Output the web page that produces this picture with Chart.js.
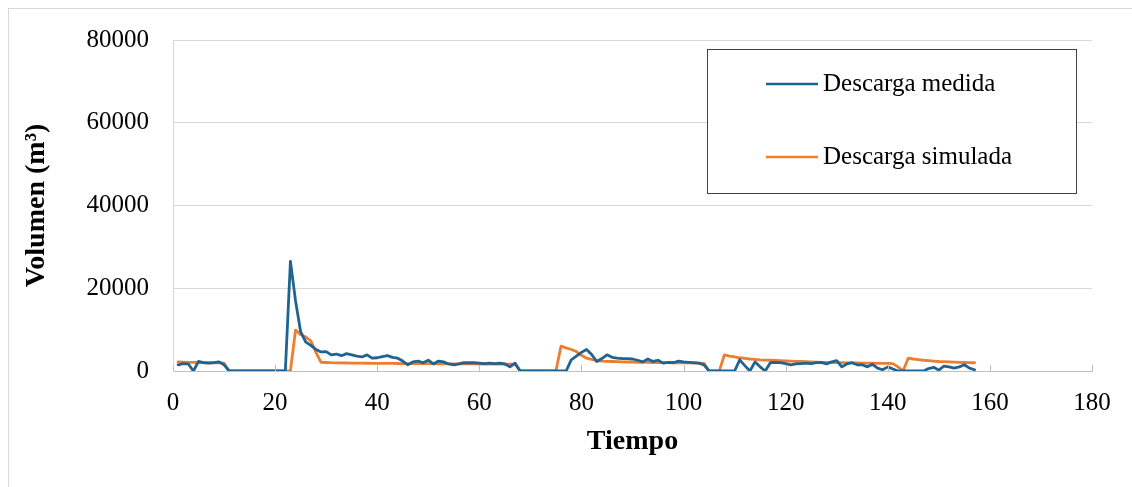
<!DOCTYPE html>
<html>
<head>
<meta charset="utf-8">
<script src="https://cdn.jsdelivr.net/npm/chart.js@4/dist/chart.umd.min.js"></script>
<style>
  body { margin: 0; background: #fff; }
  canvas { display: block; }
</style>
</head>
<body>
<canvas id="grafico" width="1132" height="487"></canvas>
<script>
// volumen diario (m3)
var medida = [
  1500, 1800, 1700, 0, 2300, 2000, 1900, 2000, 2200, 1500,
  0, 0, 0, 0, 0, 0, 0, 0, 0, 0,
  0, 0, 26500, 17000, 9500, 7000, 6200, 5200, 4600, 4700,
  3900, 4100, 3700, 4200, 3900, 3600, 3400, 3900, 3100, 3200,
  3500, 3700, 3300, 3100, 2400, 1500, 2200, 2400, 2000, 2600,
  1700, 2400, 2200, 1700, 1500, 1700, 2000, 2000, 2000, 1900,
  1800, 1900, 1800, 1900, 1700, 1000, 1900, 0, 0, 0,
  0, 0, 0, 0, 0, 0, 0, 2700, 3600, 4500,
  5200, 4000, 2300, 3000, 3900, 3300, 3100, 3000, 3000, 2900,
  2600, 2200, 2900, 2300, 2600, 1900, 2100, 2000, 2400, 2200,
  2100, 2000, 1900, 1500, 0, 0, 0, 0, 0, 0,
  2700, 1300, 0, 2200, 1000, 0, 2000, 2100, 2000, 1800,
  1500, 1700, 1800, 1900, 1800, 2000, 2100, 1700, 2200, 2500,
  1000, 1700, 2000, 1500, 1500, 1000, 1600, 700, 300, 1000,
  500, 0, 0, 0, 0, 0, 0, 600, 900, 200,
  1200, 1000, 700, 1000, 1500, 700, 300
];

var simulada = [
  2200, 2150, 2100, 2100, 2050, 2000, 2000, 1950, 1950, 1900,
  0, 0, 0, 0, 0, 0, 0, 0, 0, 0,
  0, 0, 0, 9900, 8800, 8200, 7300, 4500, 2100, 2050,
  2000, 1980, 1950, 1930, 1920, 1900, 1890, 1870, 1860, 1850,
  1840, 1830, 1820, 1810, 1800, 1800, 1790, 1780, 1770, 1760,
  1760, 1750, 1740, 1730, 1730, 1720, 1710, 1700, 1700, 1690,
  1680, 1680, 1670, 1660, 1650, 1650, 1650, 0, 0, 0,
  0, 0, 0, 0, 0, 6000, 5600, 5200, 4700, 3800,
  3100, 2800, 2500, 2400, 2350, 2300, 2250, 2200, 2180, 2150,
  2120, 2100, 2080, 2060, 2040, 2020, 2000, 1990, 1970, 1960,
  1940, 1920, 1900, 1850, 0, 0, 0, 3900, 3600, 3400,
  3200, 3050, 2900, 2800, 2700, 2650, 2600, 2550, 2500, 2450,
  2400, 2350, 2300, 2250, 2200, 2150, 2100, 2080, 2050, 2020,
  2000, 1980, 1960, 1940, 1920, 1900, 1880, 1860, 1850, 1830,
  1800, 1000, 0, 3100, 2900, 2750, 2600, 2500, 2400, 2300,
  2250, 2200, 2150, 2100, 2050, 2000, 2000
];

// dia 1..157
var tiempo = medida.map(function(v, i) { return i + 1; });

var series = ["Descarga medida", "Descarga simulada"];
var colores = ["#1f6390", "#ed7d31"];

var fuente = "'Liberation Serif', 'Times New Roman', serif";

function puntos(valores) {
  return valores.map(function(v, i) { return { x: tiempo[i], y: v }; });
}

// marco exterior y fondo
var marco = {
  id: 'marco',
  beforeDraw: function(chart) {
    var ctx = chart.ctx;
    ctx.save();
    ctx.fillStyle = '#fff';
    ctx.fillRect(0, 0, chart.width, chart.height);
    ctx.strokeStyle = '#d9d9d9';
    ctx.lineWidth = 1;
    ctx.strokeRect(8.5, 8.5, chart.width + 20, chart.height + 20);
    ctx.restore();
  }
};

// marcas del eje x hacia adentro
var marcasX = {
  id: 'marcasX',
  afterDatasetsDraw: function(chart) {
    var ctx = chart.ctx;
    var x = chart.scales.x;
    var base = chart.chartArea.bottom;
    ctx.save();
    ctx.strokeStyle = '#bfbfbf';
    ctx.lineWidth = 1;
    x.ticks.forEach(function(t) {
      var px = Math.round(x.getPixelForValue(t.value)) + 0.5;
      ctx.beginPath();
      ctx.moveTo(px, base);
      ctx.lineTo(px, base - 6);
      ctx.stroke();
    });
    ctx.restore();
  }
};

// leyenda en recuadro
var leyenda = {
  id: 'leyenda',
  afterDraw: function(chart) {
    var ctx = chart.ctx;
    ctx.save();
    ctx.fillStyle = '#fff';
    ctx.fillRect(707, 49, 369, 144);
    ctx.strokeStyle = '#404040';
    ctx.lineWidth = 1;
    ctx.strokeRect(707.5, 49.5, 369, 144);
    var filas = [84, 157];
    chart.data.datasets.forEach(function(ds, i) {
      var y = filas[i];
      ctx.strokeStyle = ds.borderColor;
      ctx.lineWidth = 2.5;
      ctx.beginPath();
      ctx.moveTo(766, y);
      ctx.lineTo(818, y);
      ctx.stroke();
      ctx.fillStyle = '#000';
      ctx.font = '25px ' + fuente;
      ctx.textBaseline = 'middle';
      ctx.textAlign = 'left';
      ctx.fillText(ds.label, 823, y);
    });
    ctx.restore();
  }
};

function sinSeparador(valor) {
  return String(valor);
}

var ctx = document.getElementById("grafico");
var grafico = new Chart(ctx, {
  type: 'line',
  data: {
    datasets: [
      { label: series[0], data: puntos(medida), borderColor: colores[0] },
      { label: series[1], data: puntos(simulada), borderColor: colores[1] }
    ]
  },
  options: {
    responsive: false,
    animation: false,
    devicePixelRatio: 1,
    layout: { padding: { top: 40, right: 40, bottom: 0, left: 10 } },
    elements: {
      point: { radius: 0 },
      line: { borderWidth: 2.8, tension: 0, borderJoinStyle: 'round', borderCapStyle: 'round' }
    },
    plugins: {
      legend: { display: false },
      tooltip: { enabled: false }
    },
    scales: {
      x: {
        type: 'linear',
        min: 0,
        max: 180,
        ticks: { stepSize: 20, padding: 17, color: '#000', font: { family: fuente, size: 25 }, callback: sinSeparador },
        grid: { display: false, drawTicks: false },
        border: { display: true, color: '#bfbfbf', width: 1 },
        title: {
          display: true,
          text: 'Tiempo',
          color: '#000',
          font: { family: fuente, size: 28, weight: 'bold' },
          padding: { top: 0, bottom: 28 }
        },
        afterFit: function(scale) { scale.height = 116; }
      },
      y: {
        min: 0,
        max: 80000,
        ticks: { stepSize: 20000, padding: 24, color: '#000', font: { family: fuente, size: 25 }, callback: sinSeparador },
        grid: { color: '#d9d9d9', lineWidth: 1, drawTicks: false },
        border: { display: true, color: '#d9d9d9', width: 1 },
        title: {
          display: true,
          text: 'Volumen (m³)',
          color: '#000',
          font: { family: fuente, size: 28, weight: 'bold' },
          padding: { top: 10, bottom: 0 }
        },
        afterFit: function(scale) { scale.width = 163; }
      }
    }
  },
  plugins: [marco, marcasX, leyenda]
});
</script>
</body>
</html>
